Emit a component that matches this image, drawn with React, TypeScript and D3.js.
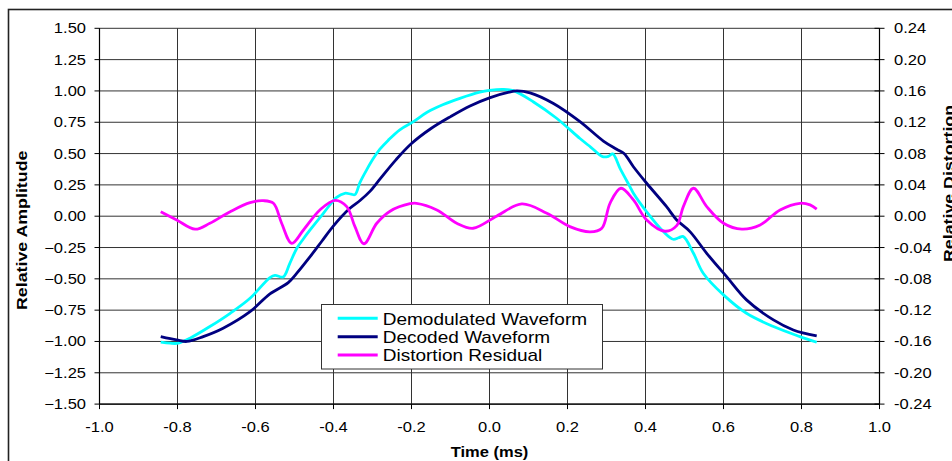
import React from "react";
import * as d3 from "d3";

// ---- Data ----
const demodTime = [-0.843, -0.819, -0.798, -0.768, -0.717, -0.665, -0.614, -0.563, -0.55, -0.529, -0.512, -0.494, -0.477, -0.46, -0.426, -0.392, -0.371, -0.355, -0.345, -0.332, -0.315, -0.298, -0.281, -0.26, -0.23, -0.195, -0.16, -0.12, -0.076, -0.025, 0.0, 0.035, 0.061, 0.112, 0.172, 0.232, 0.26, 0.29, 0.305, 0.316, 0.335, 0.36, 0.369, 0.403, 0.446, 0.471, 0.485, 0.497, 0.523, 0.548, 0.6, 0.659, 0.728, 0.796, 0.839];
const demodAmp = [-1.006, -1.014, -1.014, -0.974, -0.881, -0.775, -0.655, -0.49, -0.472, -0.485, -0.376, -0.256, -0.18, -0.11, 0.023, 0.15, 0.183, 0.176, 0.172, 0.27, 0.37, 0.46, 0.535, 0.605, 0.69, 0.755, 0.83, 0.89, 0.941, 0.99, 1.005, 1.013, 1.002, 0.914, 0.782, 0.62, 0.55, 0.475, 0.478, 0.497, 0.38, 0.236, 0.183, 0.035, -0.123, -0.184, -0.172, -0.163, -0.296, -0.455, -0.628, -0.775, -0.881, -0.961, -1.006];

const decodTime = [-0.843, -0.802, -0.776, -0.734, -0.683, -0.614, -0.563, -0.516, -0.494, -0.46, -0.43, -0.4, -0.358, -0.332, -0.306, -0.28, -0.24, -0.2, -0.15, -0.1, -0.05, 0.0, 0.05, 0.07, 0.104, 0.164, 0.232, 0.292, 0.326, 0.345, 0.369, 0.403, 0.454, 0.48, 0.514, 0.557, 0.608, 0.659, 0.728, 0.779, 0.839];
const decodAmp = [-0.961, -0.988, -1.0, -0.961, -0.894, -0.762, -0.62, -0.53, -0.455, -0.323, -0.2, -0.077, 0.063, 0.125, 0.2, 0.3, 0.45, 0.58, 0.7, 0.795, 0.88, 0.945, 0.99, 1.0, 0.985, 0.9, 0.755, 0.6, 0.535, 0.5, 0.395, 0.263, 0.076, -0.03, -0.123, -0.296, -0.483, -0.668, -0.828, -0.908, -0.956];

const distTime = [-0.843, -0.802, -0.755, -0.717, -0.665, -0.614, -0.58, -0.554, -0.533, -0.507, -0.477, -0.435, -0.396, -0.366, -0.345, -0.322, -0.289, -0.255, -0.204, -0.187, -0.135, -0.084, -0.042, 0.018, 0.083, 0.147, 0.206, 0.258, 0.288, 0.309, 0.337, 0.369, 0.403, 0.45, 0.48, 0.497, 0.523, 0.557, 0.6, 0.647, 0.694, 0.745, 0.796, 0.822, 0.839];
const distValue = [0.0058, -0.0048, -0.0166, -0.009, 0.0058, 0.0173, 0.0198, 0.0165, -0.009, -0.0346, -0.0176, 0.008, 0.0203, 0.0122, -0.0133, -0.0352, -0.009, 0.0064, 0.016, 0.0165, 0.008, -0.009, -0.0154, 0.0, 0.0157, 0.0038, -0.0133, -0.02, -0.0154, 0.0165, 0.0357, 0.0208, -0.0048, -0.0192, -0.012, 0.0122, 0.0357, 0.0122, -0.009, -0.0166, -0.0112, 0.008, 0.0165, 0.0144, 0.009];

const xTicks = [-1.0, -0.8, -0.6, -0.4, -0.2, 0.0, 0.2, 0.4, 0.6, 0.8, 1.0];
const leftTicks = [1.5, 1.25, 1.0, 0.75, 0.5, 0.25, 0.0, -0.25, -0.5, -0.75, -1.0, -1.25, -1.5];
const rightTicks = [0.24, 0.2, 0.16, 0.12, 0.08, 0.04, 0.0, -0.04, -0.08, -0.12, -0.16, -0.2, -0.24];

const seriesNames = ["Demodulated Waveform", "Decoded Waveform", "Distortion Residual"];
const seriesColors = ["#00FFFF", "#000080", "#FF00FF"];

const FONT = "'Liberation Sans', Arial, sans-serif";
const SX = 1.18;

function T({ x, y, anchor = "start", size = 14, weight = "normal", rotate = 0, sx = SX, children }: any) {
  return (
    <text
      transform={`translate(${x},${y}) rotate(${rotate}) scale(${sx},1)`}
      textAnchor={anchor}
      fontSize={size}
      fontWeight={weight}
      fontFamily={FONT}
      fill="#000"
    >
      {children}
    </text>
  );
}

export default function App() {
  const x = d3.scaleLinear().domain([-1, 1]).range([99.5, 879.5]);
  const yL = d3.scaleLinear().domain([-1.5, 1.5]).range([404.1, 28.3]);
  const yR = d3.scaleLinear().domain([-0.24, 0.24]).range([404.1, 28.3]);

  const mk = (ts: number[], vs: number[], ys: any) =>
    d3
      .line<number>()
      .x((_, i) => x(ts[i]))
      .y((v) => ys(v))
      .curve(d3.curveCatmullRom.alpha(0.5))(vs) as string;

  const demodPath = mk(demodTime, demodAmp, yL);
  const decodPath = mk(decodTime, decodAmp, yL);
  const distPath = mk(distTime, distValue, yR);

  const legX = 321.5, legY = 304.5, legW = 281, legH = 64.5;
  const legRows = [318.3, 336.7, 355];

  return (
    <svg
      width={952}
      height={461}
      style={{ position: "absolute", left: 0, top: 0, background: "#fff" }}
    >
      <rect x={0} y={0} width={952} height={461} fill="#fff" />
      {/* outer chart frame */}
      <rect x={8.5} y={9.5} width={960} height={470} fill="none" stroke="#222" strokeWidth={1.6} />

      {/* grid */}
      {xTicks.map((t) => (
        <line key={"gx" + t} x1={x(t)} x2={x(t)} y1={yL(1.5)} y2={yL(-1.5)} stroke="#333" strokeWidth={1} />
      ))}
      {leftTicks.map((t) => (
        <line key={"gy" + t} x1={x(-1)} x2={x(1)} y1={yL(t)} y2={yL(t)} stroke="#333" strokeWidth={1} />
      ))}

      {/* axes */}
      <line x1={x(-1)} x2={x(-1)} y1={yL(1.5)} y2={yL(-1.5)} stroke="#000" strokeWidth={1.2} />
      <line x1={x(1)} x2={x(1)} y1={yL(1.5)} y2={yL(-1.5)} stroke="#000" strokeWidth={1.2} />
      <line x1={x(-1)} x2={x(1)} y1={yL(-1.5)} y2={yL(-1.5)} stroke="#000" strokeWidth={1.2} />

      {leftTicks.map((t) => (
        <g key={"lt" + t}>
          <line x1={x(-1) - 5} x2={x(-1)} y1={yL(t)} y2={yL(t)} stroke="#000" />
          <T x={86} y={yL(t) + 5} anchor="end">{d3.format(".2f")(t)}</T>
        </g>
      ))}
      {rightTicks.map((t) => (
        <g key={"rt" + t}>
          <line x1={x(1) - 5} x2={x(1) + 5} y1={yR(t)} y2={yR(t)} stroke="#000" />
          <T x={894} y={yR(t) + 5} anchor="start">{d3.format(".2f")(t).replace("−", "-")}</T>
        </g>
      ))}
      {xTicks.map((t) => (
        <g key={"xt" + t}>
          <line x1={x(t)} x2={x(t)} y1={yL(-1.5)} y2={yL(-1.5) + 5} stroke="#000" />
          <T x={x(t)} y={432} anchor="middle">{d3.format(".1f")(t).replace("−", "-")}</T>
        </g>
      ))}

      {/* titles */}
      <T x={489.5} y={457} anchor="middle" weight="bold">Time (ms)</T>
      <T x={27} y={310} anchor="start" weight="bold" rotate={-90} sx={1.27}>Relative Amplitude</T>
      <T x={954} y={262} anchor="start" weight="bold" rotate={-90} sx={1.27}>Relative Distortion</T>

      {/* series */}
      <path d={demodPath} fill="none" stroke={seriesColors[0]} strokeWidth={2.8} strokeLinejoin="round" />
      <path d={decodPath} fill="none" stroke={seriesColors[1]} strokeWidth={2.8} strokeLinejoin="round" />
      <path d={distPath} fill="none" stroke={seriesColors[2]} strokeWidth={2.8} strokeLinejoin="round" />

      {/* legend */}
      <rect x={legX} y={legY} width={legW} height={legH} fill="#fff" stroke="#333" strokeWidth={1} />
      {seriesNames.map((n, i) => (
        <g key={n}>
          <line x1={337.7} x2={377.7} y1={legRows[i]} y2={legRows[i]} stroke={seriesColors[i]} strokeWidth={3} />
          <T x={382.7} y={legRows[i] + 6.3} anchor="start" size={17} sx={1.12}>{n}</T>
        </g>
      ))}
    </svg>
  );
}
